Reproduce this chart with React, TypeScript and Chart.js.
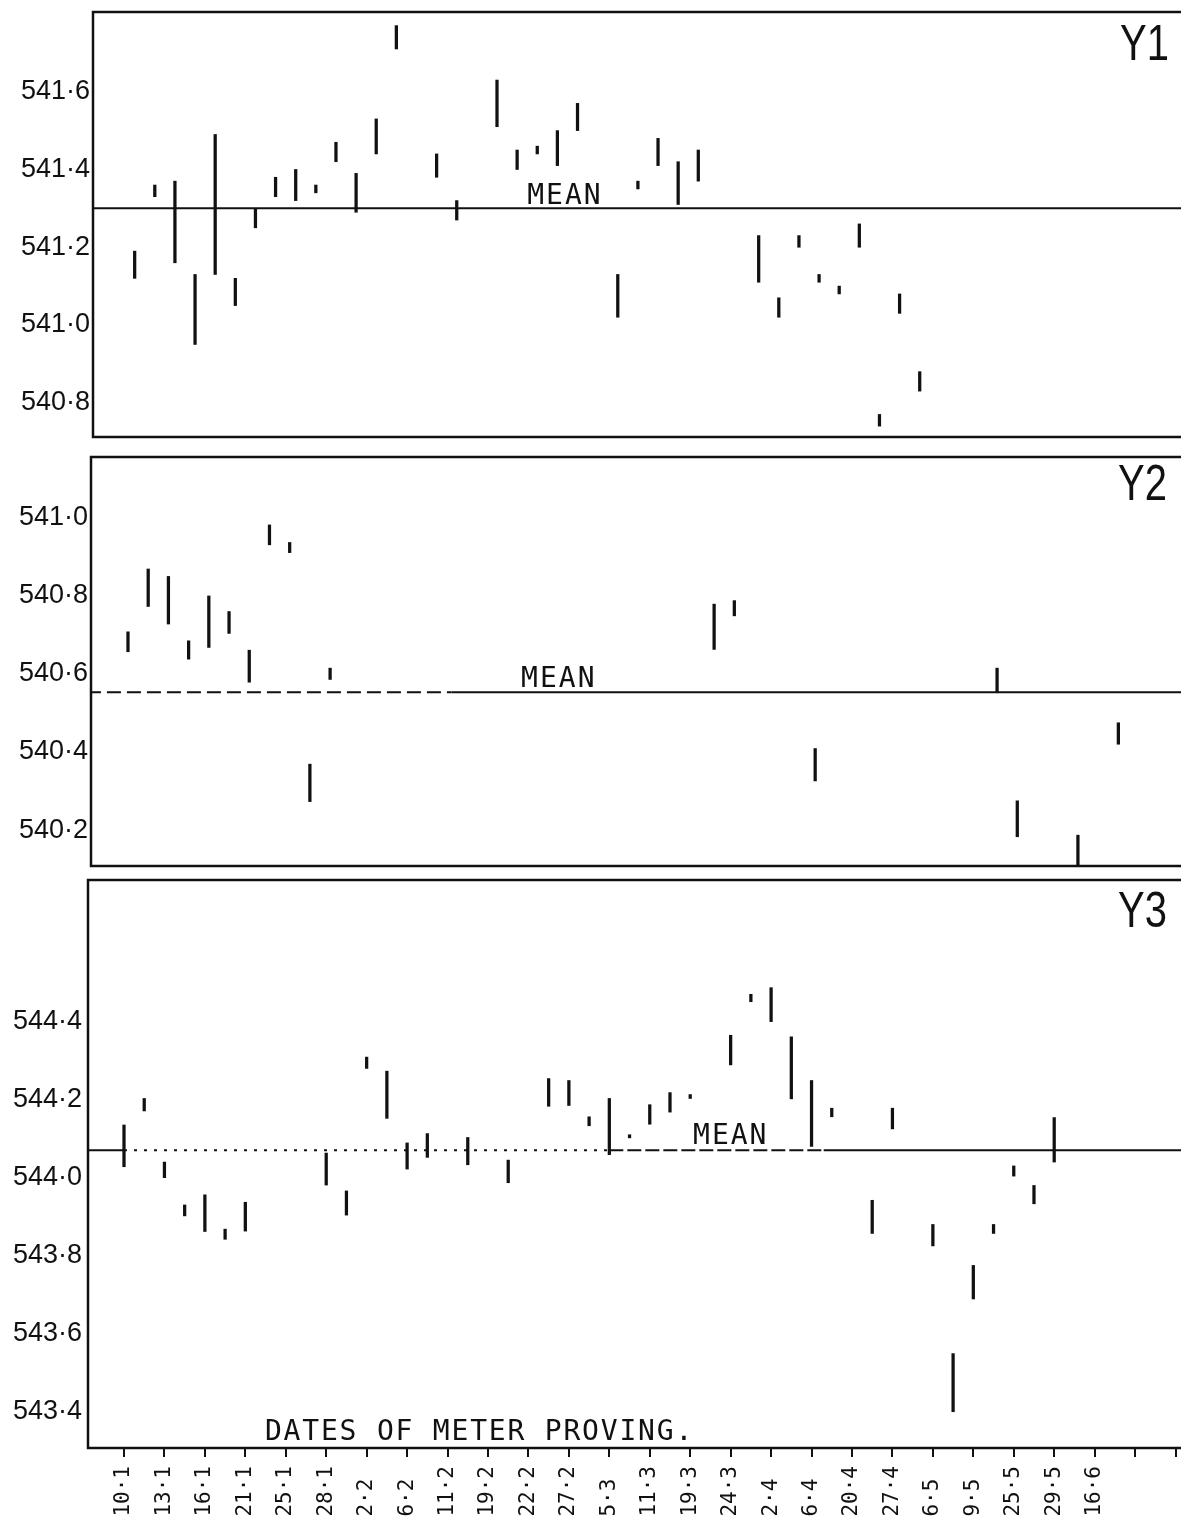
import React, { useEffect, useRef } from 'react';
import { Chart, registerables } from 'chart.js';

Chart.register(...registerables);

// ---------- data ----------
const dateLabels = ['10·1', '13·1', '16·1', '21·1', '25·1', '28·1', '2·2', '6·2', '11·2', '19·2', '22·2', '27·2', '5·3', '11·3', '19·3', '24·3', '2·4', '6·4', '20·4', '27·4', '6·5', '9·5', '25·5', '29·5', '16·6'];
const xTickSlots = [0, 2, 4, 6, 8, 10, 12, 14, 16, 18, 20, 22, 24, 26, 28, 30, 32, 34, 36, 38, 40, 42, 44, 46, 48, 50, 52];

// Y1 meter
const y1Slots = [0, 1, 2, 3, 4, 5, 6, 7, 8, 9, 10, 11, 12, 13, 15, 16, 18, 19, 20, 21, 22, 24, 25, 26, 27, 28, 31, 32, 33, 34, 35, 36, 37, 38, 39];
const y1Low = [541.12, 541.33, 541.16, 540.95, 541.13, 541.05, 541.25, 541.33, 541.32, 541.34, 541.42, 541.29, 541.44, 541.71, 541.38, 541.27, 541.51, 541.40, 541.44, 541.41, 541.50, 541.02, 541.35, 541.41, 541.31, 541.37, 541.11, 541.02, 541.20, 541.11, 541.08, 541.20, 540.74, 541.03, 540.83];
const y1High = [541.19, 541.36, 541.37, 541.13, 541.49, 541.12, 541.30, 541.38, 541.40, 541.36, 541.47, 541.39, 541.53, 541.77, 541.44, 541.32, 541.63, 541.45, 541.46, 541.50, 541.57, 541.13, 541.37, 541.48, 541.42, 541.45, 541.23, 541.07, 541.23, 541.13, 541.10, 541.26, 540.77, 541.08, 540.88];
const y1Mean = 541.3;
const y1Ticks = [540.8, 541.0, 541.2, 541.4, 541.6];
const y1MeanBreaks = [-5, 60];
const y1MeanDash: number[][] = [[]];

// Y2 meter
const y2Slots = [0, 1, 2, 3, 4, 5, 6, 7, 8, 9, 10, 29, 30, 34, 43, 44, 47, 49];
const y2Low = [540.657, 540.773, 540.728, 540.638, 540.668, 540.704, 540.579, 540.931, 540.911, 540.273, 540.586, 540.663, 540.749, 540.326, 540.552, 540.183, 540.11, 540.42];
const y2High = [540.708, 540.869, 540.85, 540.685, 540.8, 540.76, 540.661, 540.982, 540.937, 540.369, 540.615, 540.779, 540.788, 540.409, 540.615, 540.275, 540.187, 540.475];
const y2Mean = 540.553;
const y2Ticks = [540.2, 540.4, 540.6, 540.8, 541.0];
const y2MeanBreaks = [-5, 16, 60];
const y2MeanDash: number[][] = [[14, 6], []];

// Y3 meter
const y3Slots = [0, 1, 2, 3, 4, 5, 6, 10, 11, 12, 13, 14, 15, 17, 19, 21, 22, 23, 24, 25, 26, 27, 28, 30, 31, 32, 33, 34, 35, 37, 38, 40, 41, 42, 43, 44, 45, 46];
const y3Low = [544.028, 544.171, 544.0, 543.902, 543.862, 543.842, 543.863, 543.981, 543.904, 544.28, 544.152, 544.022, 544.052, 544.033, 543.987, 544.183, 544.185, 544.133, 544.059, 544.102, 544.137, 544.168, 544.203, 544.289, 544.451, 544.4, 544.202, 544.08, 544.156, 543.857, 544.125, 543.825, 543.4, 543.689, 543.857, 544.004, 543.933, 544.04];
const y3High = [544.135, 544.203, 544.04, 543.93, 543.956, 543.868, 543.937, 544.063, 543.966, 544.309, 544.273, 544.089, 544.113, 544.103, 544.045, 544.254, 544.249, 544.156, 544.203, 544.11, 544.187, 544.218, 544.213, 544.365, 544.47, 544.487, 544.361, 544.249, 544.178, 543.942, 544.178, 543.88, 543.549, 543.775, 543.88, 544.03, 543.98, 544.154];
const y3Mean = 544.07;
const y3Ticks = [543.4, 543.6, 543.8, 544.0, 544.2, 544.4];
const y3MeanBreaks = [-5, 0, 24, 34.6, 60];
const y3MeanDash: number[][] = [[], [3, 7], [14, 4], []];

// ---------- layout ----------
const INK = '#111';

type Panel = {
  key: string;
  top: number;
  height: number;
  axisWidth: number;
  tickPad: number;
  padTop: number;
  padBottom: number;
  xMin: number;
  xMax: number;
  yMin: number;
  yMax: number;
  slots: number[];
  low: number[];
  high: number[];
  mean: number;
  ticks: number[];
  breaks: number[];
  dashes: number[][];
  meanSlot: number;
  meanGap: number;
  titleRight: number;
  titleBase: number;
  showX: boolean;
};

const panels: Panel[] = [
  {
    key: 'Y1', top: 0, height: 447, axisWidth: 93, tickPad: 3, padTop: 12, padBottom: 10,
    xMin: -2.07, xMax: 51.98, yMin: 540.712, yMax: 541.805,
    slots: y1Slots, low: y1Low, high: y1High, mean: y1Mean, ticks: y1Ticks,
    breaks: y1MeanBreaks, dashes: y1MeanDash, meanSlot: 19.5, meanGap: 4,
    titleRight: 12, titleBase: 48, showX: false,
  },
  {
    key: 'Y2', top: 447, height: 425, axisWidth: 91, tickPad: 3, padTop: 10, padBottom: 6,
    xMin: -1.83, xMax: 52.1, yMin: 540.108, yMax: 541.156,
    slots: y2Slots, low: y2Low, high: y2High, mean: y2Mean, ticks: y2Ticks,
    breaks: y2MeanBreaks, dashes: y2MeanDash, meanSlot: 19.45, meanGap: 5,
    titleRight: 14, titleBase: 43, showX: false,
  },
  {
    key: 'Y3', top: 872, height: 650, axisWidth: 88, tickPad: 6, padTop: 8, padBottom: 0,
    xMin: -1.78, xMax: 52.27, yMin: 543.307, yMax: 544.763,
    slots: y3Slots, low: y3Low, high: y3High, mean: y3Mean, ticks: y3Ticks,
    breaks: y3MeanBreaks, dashes: y3MeanDash, meanSlot: 28.14, meanGap: 6,
    titleRight: 14, titleBase: 47, showX: true,
  },
];

const decor = {
  id: 'decor',
  afterDraw(chart: any, _args: any, opts: any) {
    const { ctx, chartArea: a, scales } = chart;
    ctx.save();
    ctx.strokeStyle = INK;
    ctx.lineWidth = 2.5;
    ctx.beginPath();
    ctx.moveTo(a.right + 3, a.top);
    ctx.lineTo(a.left, a.top);
    ctx.lineTo(a.left, a.bottom);
    ctx.lineTo(a.right + 3, a.bottom);
    ctx.stroke();

    ctx.fillStyle = INK;
    // panel title
    ctx.save();
    ctx.font = '50px "Liberation Sans"';
    ctx.textAlign = 'right';
    ctx.textBaseline = 'alphabetic';
    ctx.translate(a.right - opts.titleRight, a.top + opts.titleBase);
    ctx.scale(0.8, 1);
    ctx.fillText(opts.title, 0, 0);
    ctx.restore();

    // MEAN label and caption
    ctx.save();
    ctx.font = '28px "DejaVu Sans Mono"';
    (ctx as any).letterSpacing = '2px';
    ctx.textAlign = 'left';
    ctx.textBaseline = 'alphabetic';
    ctx.fillText('MEAN', scales.x.getPixelForValue(opts.meanSlot), scales.y.getPixelForValue(opts.mean) - opts.meanGap);
    if (opts.caption) {
      (ctx as any).letterSpacing = '1.8px';
      ctx.fillText(opts.caption, scales.x.getPixelForValue(opts.captionSlot), a.bottom - 8);
    }
    ctx.restore();
    ctx.restore();
  },
};

function PanelChart({ p }: { p: Panel }) {
  const ref = useRef<HTMLCanvasElement | null>(null);
  useEffect(() => {
    if (!ref.current) return;
    const bars = p.slots.map((s, i) => ({ x: s, y: [p.low[i], p.high[i]] }));
    const meanPts = p.breaks.map((b) => ({ x: b, y: p.mean }));
    const chart = new Chart(ref.current, {
      type: 'bar',
      data: {
        datasets: [
          {
            type: 'bar',
            data: bars as any,
            backgroundColor: INK,
            borderWidth: 0,
            barThickness: 2.6,
            minBarLength: 3,
            order: 0,
          } as any,
          {
            type: 'line',
            data: meanPts as any,
            borderColor: INK,
            borderWidth: 2,
            pointRadius: 0,
            fill: false,
            order: 1,
            segment: {
              borderDash: (c: any) => p.dashes[c.p0DataIndex] || [],
            },
          } as any,
        ],
      },
      options: {
        responsive: false,
        animation: false,
        events: [],
        layout: { padding: { top: p.padTop, bottom: p.padBottom, left: 0, right: 0 } },
        plugins: {
          legend: { display: false },
          tooltip: { enabled: false },
          decor: {
            title: p.key,
            titleRight: p.titleRight,
            titleBase: p.titleBase,
            mean: p.mean,
            meanSlot: p.meanSlot,
            meanGap: p.meanGap,
            caption: p.showX ? 'DATES OF METER PROVING.' : '',
            captionSlot: 6.97,
          },
        } as any,
        scales: {
          x: {
            type: 'linear',
            display: p.showX,
            min: p.xMin,
            max: p.xMax,
            offset: false,
            grid: {
              display: true,
              offset: false,
              drawOnChartArea: false,
              drawTicks: true,
              tickLength: 9,
              color: INK,
              lineWidth: 2,
            },
            border: { display: false },
            afterBuildTicks: (scale: any) => {
              scale.ticks = xTickSlots.map((v) => ({ value: v }));
            },
            afterFit: (scale: any) => {
              if (p.showX) scale.height = 74;
              scale.paddingLeft = 0;
              scale.paddingRight = 0;
              scale.paddingTop = 0;
              scale.paddingBottom = 0;
            },
            ticks: {
              autoSkip: false,
              minRotation: 90,
              maxRotation: 90,
              padding: 9,
              color: INK,
              font: { family: '"DejaVu Sans Mono"', size: 21 },
              callback: (_v: any, i: number) => (dateLabels[i] ?? '').padEnd(4, ' '),
            },
          },
          y: {
            type: 'linear',
            min: p.yMin,
            max: p.yMax,
            beginAtZero: false,
            grid: { display: false, drawTicks: false },
            border: { display: false },
            afterBuildTicks: (scale: any) => {
              scale.ticks = p.ticks.map((v) => ({ value: v }));
            },
            afterFit: (scale: any) => {
              scale.width = p.axisWidth;
              scale.paddingLeft = 0;
              scale.paddingRight = 0;
              scale.paddingTop = 0;
              scale.paddingBottom = 0;
            },
            ticks: {
              padding: p.tickPad,
              color: INK,
              font: { family: '"Liberation Sans"', size: 27 },
              callback: (v: any) => Number(v).toFixed(1).replace('.', '·'),
            },
          },
        },
      } as any,
      plugins: [decor as any],
    });
    return () => chart.destroy();
  }, [p]);
  return (
    <div style={{ position: 'absolute', left: 0, top: p.top, width: 1181, height: p.height }}>
      <canvas ref={ref} width={1181} height={p.height} style={{ display: 'block' }} />
    </div>
  );
}

export default function App() {
  return (
    <div style={{ position: 'absolute', left: 0, top: 0, width: 1181, height: 1522, background: '#fff' }}>
      {panels.map((p) => (
        <PanelChart key={p.key} p={p} />
      ))}
    </div>
  );
}
